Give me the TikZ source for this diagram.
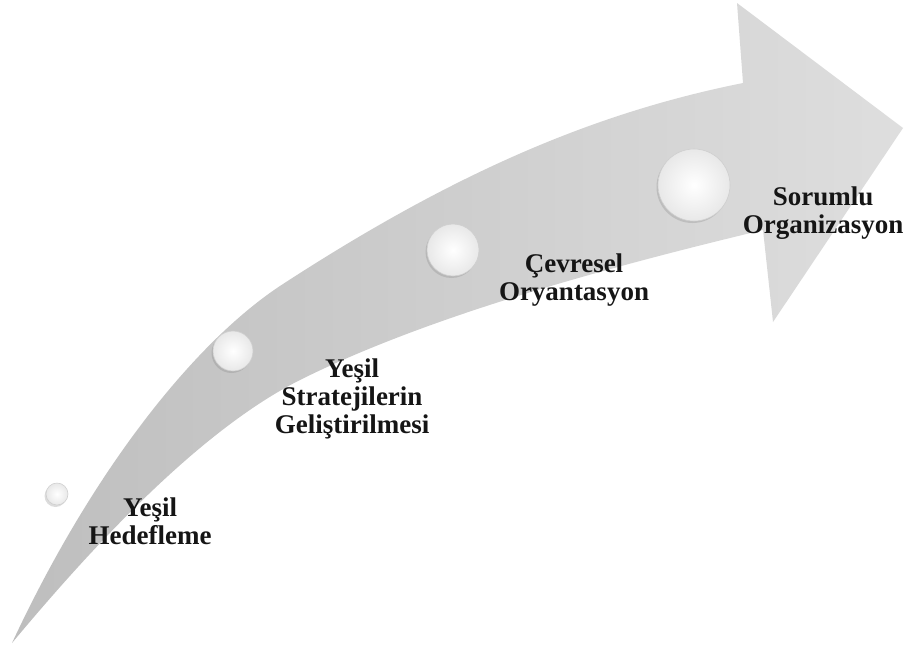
\documentclass[tikz,border=0pt]{standalone}
\usepackage{fontspec}
\setmainfont{Liberation Serif}
\usetikzlibrary{shadows}
\definecolor{arrowdark}{HTML}{BEBEBE}
\definecolor{arrowlight}{HTML}{DEDEDE}
\definecolor{rim}{HTML}{CFCFCF}
\definecolor{labeltext}{HTML}{151515}
\begin{document}
\begin{tikzpicture}[x=1pt,y=-1pt,
  sphere/.style={circle, inner sep=0pt, draw=rim, line width=0.6pt,
    inner color=white, outer color=black!9,
    drop shadow={shadow xshift=-1.5pt, shadow yshift=-2pt, opacity=0.28}},
  lbl/.style={align=center, anchor=north, inner sep=0pt, text=labeltext,
    font=\fontsize{27}{28}\selectfont\bfseries}]
\useasboundingbox (0,0) rectangle (909,649);
% curved arrow
\shade[left color=arrowdark, right color=arrowlight]
  (12,643) .. controls (95,465) and (198,339) .. (283,284)
  .. controls (453,173.5) and (593,113) .. (743,83)
  -- (737,3) -- (903,128) -- (773,322) -- (763,230)
  .. controls (613,266) and (430,315) .. (300,380)
  .. controls (200,430) and (92,547) .. (12,643) -- cycle;
% spheres
\node[sphere, minimum size=22pt] (s1) at (57,494) {};
\node[sphere, minimum size=40pt] (s2) at (233,351) {};
\node[sphere, minimum size=52pt] (s3) at (453,250) {};
\node[sphere, minimum size=72pt] (s4) at (694,185) {};
% labels
\node[lbl] (l1) at (150,498) {Yeşil\\Hedefleme};
\node[lbl] (l2) at (352,359) {Yeşil\\Stratejilerin\\Geliştirilmesi};
\node[lbl] (l3) at (574,254) {Çevresel\\Oryantasyon};
\node[lbl] (l4) at (823,187) {Sorumlu\\Organizasyon};
\end{tikzpicture}
\end{document}
